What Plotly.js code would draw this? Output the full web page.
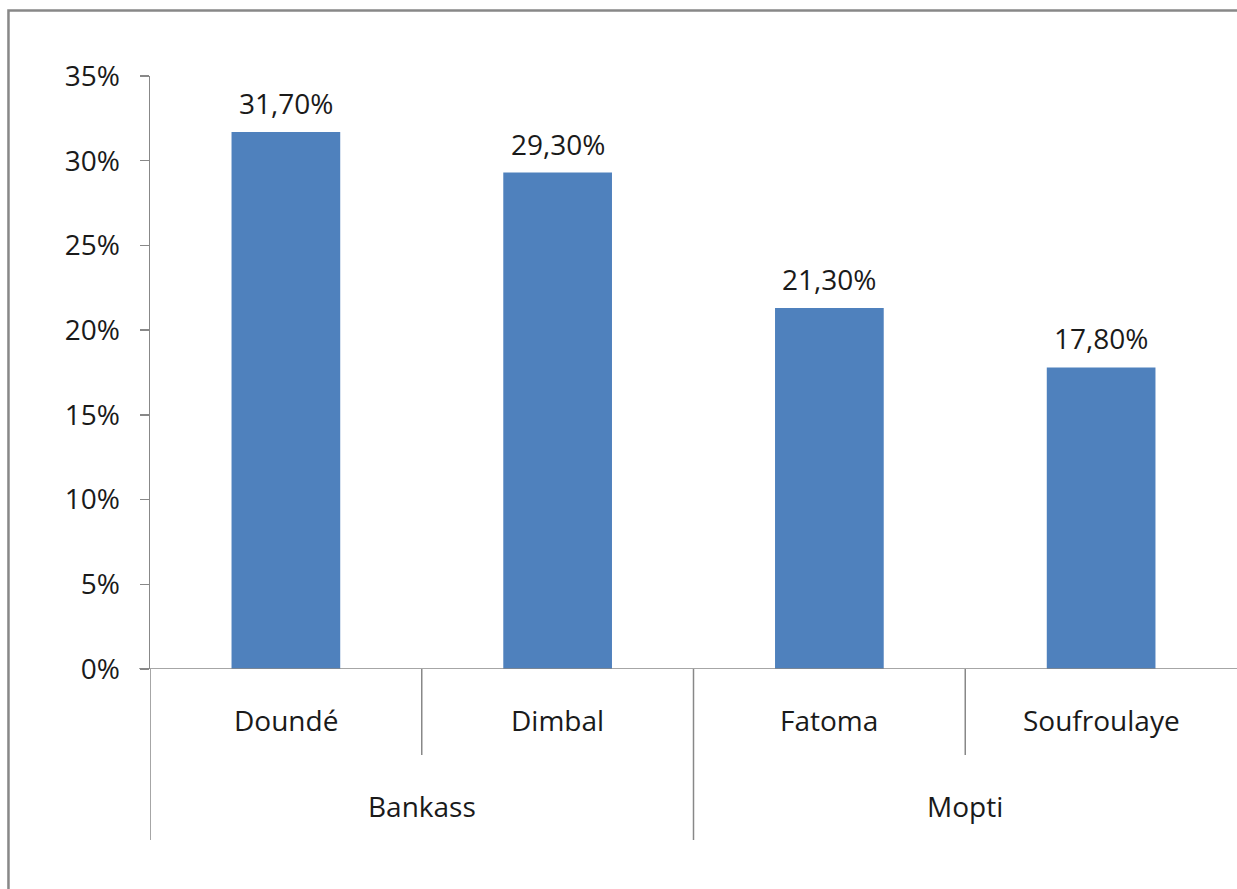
<!DOCTYPE html>
<html>
<head>
<meta charset="utf-8">
<script src="https://cdn.plot.ly/plotly-3.0.1.min.js"></script>
<style>html,body{margin:0;padding:0;background:#fff;}#chart{width:1237px;height:889px;}</style>
</head>
<body>
<div id="chart"></div>
<script>
const categories = ['Doundé', 'Dimbal', 'Fatoma', 'Soufroulaye'];
const groups = ['Bankass', 'Bankass', 'Mopti', 'Mopti'];
const values = [31.7, 29.3, 21.3, 17.8];
const yTicks = [0, 5, 10, 15, 20, 25, 30, 35];

const FONT = 'Open Sans, Liberation Sans, Arial, sans-serif';
const TXT = '#1a1a1a';
const AX = '#888888';
const FS = 28;

function fmt(v) { return v.toFixed(2).replace('.', ',') + '%'; }

const annotations = [];
values.forEach((v, i) => {
  annotations.push({x: categories[i], y: v, xref: 'x', yref: 'y', text: fmt(v), showarrow: false,
    yanchor: 'middle', yshift: 29, font: {family: FONT, size: FS, color: TXT}});
  annotations.push({x: categories[i], y: 0, xref: 'x', yref: 'y', text: categories[i], showarrow: false,
    yanchor: 'middle', yshift: -51, font: {family: FONT, size: FS, color: TXT}});
});
// group labels centred over their categories
const groupNames = [...new Set(groups)];
const shapes = [];
groupNames.forEach(g => {
  const idx = groups.map((x, i) => x === g ? i : -1).filter(i => i >= 0);
  const c = (idx[0] + idx[idx.length - 1]) / 2;
  annotations.push({x: c, y: 0, xref: 'x', yref: 'y', text: g, showarrow: false,
    yanchor: 'middle', yshift: -137, font: {family: FONT, size: FS, color: TXT}});
});
// dividers
for (let i = 0; i < categories.length - 1; i++) {
  const groupBoundary = groups[i] !== groups[i + 1];
  shapes.push({type: 'line', xref: 'x', yref: 'paper', x0: i + 0.5, x1: i + 0.5, y0: 0,
    y1: groupBoundary ? -0.2884 : -0.145, line: {color: AX, width: 1.5}});
}
// left axis extension
shapes.push({type: 'line', xref: 'x', yref: 'paper', x0: -0.5, x1: -0.5, y0: 0, y1: -0.2884, line: {color: AX, width: 1.5}});
// x axis baseline
shapes.push({type: 'line', xref: 'paper', yref: 'y', x0: -0.0101, x1: 1.01, y0: 0, y1: 0, line: {color: AX, width: 1.5}});
// outer border
shapes.push({type: 'rect', xref: 'paper', yref: 'paper', x0: -0.1302, x1: 1.05, y0: -0.5, y1: 1.1105, line: {color: '#888888', width: 2.5}});

const trace = {
  type: 'bar', x: categories, y: values, marker: {color: '#4F81BD'}, width: 0.4,
  hoverinfo: 'skip'
};

const layout = {
  width: 1237, height: 889,
  margin: {l: 150, r: 0, t: 76, b: 220},
  paper_bgcolor: '#fff', plot_bgcolor: '#fff',
  showlegend: false,
  separators: ',.',
  xaxis: {type: 'category', showticklabels: false, ticks: '', showline: false, showgrid: false, zeroline: false, range: [-0.5, 3.5], fixedrange: true},
  yaxis: {range: [0, 35], tickvals: yTicks, ticktext: yTicks.map(t => t + '%'), ticks: 'outside', ticklen: 9, tickwidth: 1.5, tickcolor: AX,
    showline: true, linecolor: AX, linewidth: 1.5, showgrid: false, zeroline: false, ticklabelstandoff: 14,
    tickfont: {family: FONT, size: FS, color: TXT}, fixedrange: true},
  annotations: annotations,
  shapes: shapes
};

Plotly.newPlot('chart', [trace], layout, {displayModeBar: false, staticPlot: true});
</script>
</body>
</html>
